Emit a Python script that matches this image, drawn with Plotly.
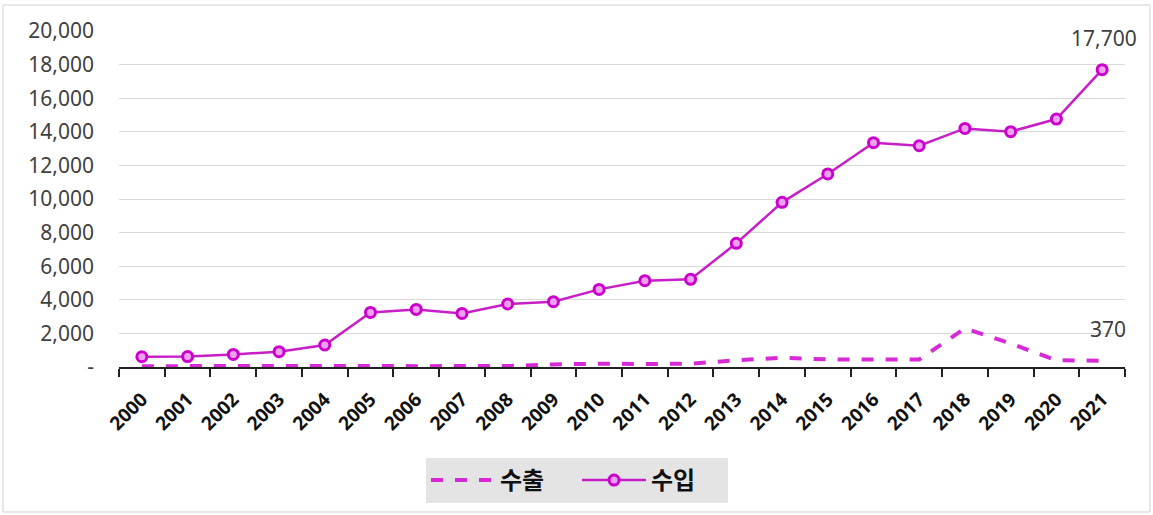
import plotly.graph_objects as go

years = [str(y) for y in range(2000, 2022)]
export_vals = [50, 60, 40, 30, 50, 60, 50, 40, 60, 150, 200, 180, 200, 400, 550, 450, 420, 450, 2300, 1400, 400, 370]
import_vals = [610, 620, 750, 910, 1310, 3250, 3430, 3190, 3750, 3890, 4620, 5140, 5220, 7360, 9800, 11490, 13350, 13170, 14200, 14010, 14760, 17700]
y_ticks = list(range(0, 20001, 2000))
y_ticktext = ["-"] + [f"{v:,}" for v in y_ticks[1:]]

fig = go.Figure()
fig.add_trace(go.Scatter(
    x=years, y=export_vals, name="<b>수출</b>", mode="lines",
    line=dict(color="#d62ad6", width=4, dash="dash"),
))
fig.add_trace(go.Scatter(
    x=years, y=import_vals, name="<b>수입</b>", mode="lines+markers",
    line=dict(color="#c81ec8", width=2.5),
    marker=dict(symbol="circle", size=10, color="#f0a0f0", line=dict(color="#cc00cc", width=3)),
))

last = len(years) - 1
fig.add_annotation(x=last, y=import_vals[-1], xref="x", yref="y", text=f"{import_vals[-1]:,}",
                   showarrow=False, yshift=32, xshift=2, font=dict(size=21, color="#404040"))
fig.add_annotation(x=last, y=export_vals[-1], xref="x", yref="y", text=f"{export_vals[-1]:,}",
                   showarrow=False, yshift=32, xshift=6, font=dict(size=21, color="#404040"))

L, R, T, B = 119, 1125, 31, 367
W, H = 1153, 515
pw, ph = R - L, B - T
fig.add_shape(type="rect", xref="paper", yref="paper",
              x0=(3 - L) / pw, x1=(1150 - L) / pw, y0=(B - 512) / ph, y1=(B - 5) / ph,
              line=dict(color="#d0d0d0", width=1), fillcolor="rgba(0,0,0,0)", layer="below")

fig.update_layout(
    width=W, height=H,
    margin=dict(l=L, r=W - R, t=T, b=H - B),
    paper_bgcolor="white", plot_bgcolor="white",
    font=dict(family="Noto Sans, Noto Sans CJK KR, sans-serif", color="#404040"),
    showlegend=True,
    legend=dict(orientation="h", x=(577 - L) / pw, xanchor="center", y=(B - 458) / ph, yanchor="top",
                bgcolor="#e4e4e4", font=dict(size=24, color="#111111", family="Noto Sans CJK KR, sans-serif"),
                itemwidth=64, entrywidth=72, entrywidthmode="pixels", tracegroupgap=0),
    xaxis=dict(type="category", tickson="boundaries", ticks="outside", ticklen=8, tickwidth=1.5,
               tickcolor="#222222", showline=True, linecolor="#222222", linewidth=1.5,
               showgrid=False, tickangle=-45, ticklabelstandoff=12,
               tickfont=dict(size=19, color="#111111", family="Noto Sans, sans-serif", weight="bold"),
               range=[-0.5, len(years) - 0.5]),
    yaxis=dict(range=[0, 20000], tickvals=y_ticks, ticktext=y_ticktext, showgrid=True,
               gridcolor="#d9d9d9", gridwidth=1, zeroline=False, showline=False,
               tickfont=dict(size=21, color="#404040"), ticklabelstandoff=24),
)

fig.write_html("out.html", config={"displayModeBar": False},
               post_script="document.body.style.margin='0';document.body.style.overflow='hidden';")
